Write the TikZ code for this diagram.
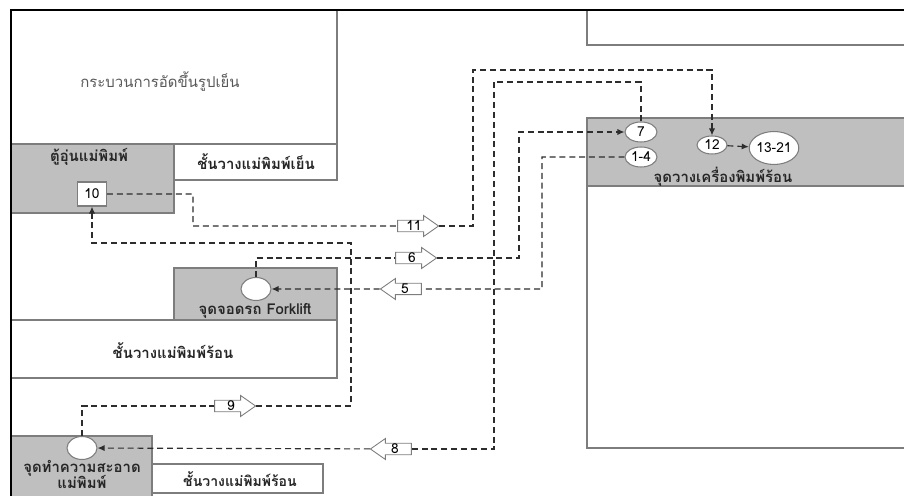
\documentclass[tikz,border=0pt]{standalone}
\usepackage{fontspec}
\setmainfont[Script=Thai]{Loma}
\usepackage{tikz}
\usetikzlibrary{positioning, shapes.geometric, shapes.arrows, arrows.meta}
\definecolor{boxgray}{RGB}{191,191,191}
\definecolor{linegray}{RGB}{125,125,125}
\definecolor{dashgray}{RGB}{45,45,45}
\newcommand{\lblfont}{\fontsize{8.5}{10}\selectfont\bfseries}
\newcommand{\numfont}{\fontsize{7.8}{8}\selectfont}

\begin{document}
\begin{tikzpicture}[x=0.02cm, y=-0.02cm,
	area/.style={draw=linegray, line width=0.7pt, fill=white},
	grayarea/.style={area, fill=boxgray},
	txt/.style={font=\lblfont, text=black!85, inner sep=1pt},
	spot/.style={ellipse, draw=linegray, fill=white, line width=0.6pt, minimum width=0.64cm, minimum height=0.4cm, inner sep=0pt, font=\numfont},
	block/.style={single arrow, draw=linegray, fill=white, line width=0.5pt, minimum width=0.42cm, minimum height=0.82cm, single arrow head extend=0.09cm, single arrow tip angle=70, inner sep=0pt, font=\numfont},
	flow/.style={draw=dashgray, line width=0.65pt, dash pattern=on 3.4pt off 2.2pt, -{Latex[length=4pt, width=3.5pt]}},
	link/.style={flow, -}]
	\useasboundingbox (0,0) rectangle (904,496);

	% areas of the plant
	\path[area] (11,10) rectangle (337,180);
	\path[grayarea] (11,144) rectangle (174,213);
	\path[area] (174,144) rectangle (337,180);
	\path[area] (587,10) rectangle (910,45);
	\path[area] (587,118) rectangle (910,448);
	\path[grayarea] (587,118) rectangle (910,186);
	\path[grayarea] (174,268) rectangle (337,320);
	\path[area] (11,320) rectangle (337,378);
	\path[grayarea] (11,436) rectangle (152,500);
	\path[area] (152,464) rectangle (323,493);
	\draw[line width=1.4pt] (910,10) -- (11,10) -- (11,500);

	\node[txt, font=\fontsize{8.5}{10}\selectfont, text=black!65] (coldpress) at (160,82) {กระบวนการอัดขึ้นรูปเย็น};
	\node[txt] (warmer) at (89,157) {ตู้อุ่นแม่พิมพ์};
	\node[txt] (coldrack) at (256,162) {ชั้นวางแม่พิมพ์เย็น};
	\node[txt] (hotpress) at (723,177) {จุดวางเครื่องพิมพ์ร้อน};
	\node[txt] (forklift) at (255,311) {จุดจอดรถ Forklift};
	\node[txt] (hotrack) at (173,351) {ชั้นวางแม่พิมพ์ร้อน};
	\node[txt] (clean1) at (82,468) {จุดทำความสะอาด};
	\node[txt, below=-2.5pt of clean1] (clean2) {แม่พิมพ์};
	\node[txt, font=\fontsize{8}{10}\selectfont\bfseries] (hotrack2) at (240,479) {ชั้นวางแม่พิมพ์ร้อน};

	% stations
	\node[draw=linegray, fill=white, line width=0.6pt, minimum width=0.58cm, minimum height=0.48cm, inner sep=0pt, font=\numfont] (n10) at (92,194) {10};
	\node[spot] (n7) at (641,132) {7};
	\node[spot] (n14) at (641,157) {1-4};
	\node[spot, minimum width=0.6cm, minimum height=0.36cm] (n12) at (712,145) {12};
	\node[spot, minimum width=0.9cm, minimum height=0.66cm] (n13) at (774,148) {13-21};
	\node[spot, minimum width=0.6cm, minimum height=0.46cm] (fk) at (256,289) {};
	\node[spot, minimum width=0.6cm, minimum height=0.46cm] (cl) at (82,448) {};

	% step arrows
	\node[block] (a11) at (414,226) {11};
	\node[block] (a6) at (412,258) {6};
	\node[block, shape border rotate=180] (a5) at (405,289) {5};
	\node[block] (a9) at (231,406) {9};
	\node[block, shape border rotate=180] (a8) at (395,449) {8};

	\coordinate (k1) at (193,226);
	\coordinate (k2) at (473,70);
	\coordinate (k3) at (519,132);
	\coordinate (k4) at (542,289);
	\coordinate (k5) at (494,82);
	\coordinate (k6) at (351,243);

	\draw[link] (n10) -| (k1) -- (a11);
	\draw[flow] (a11) -| (k2) -| (n12);
	\draw[link] (fk) |- (a6);
	\draw[flow] (a6) -| (k3) -- (n7);
	\draw[link] (n14) -| (k4) -- (a5);
	\draw[flow] (a5) -- (fk);
	\draw[link] (n7) |- (k5) |- (a8);
	\draw[flow] (a8) -- (cl);
	\draw[link] (cl) |- (a9);
	\draw[flow] (a9) -| (k6) -| (n10);
	\draw[flow] (n12) -- (n13);
\end{tikzpicture}
\end{document}
